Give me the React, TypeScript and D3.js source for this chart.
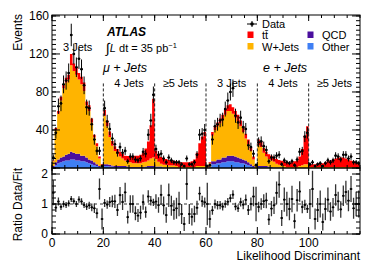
import * as d3 from "d3"

// 120 bins of the likelihood discriminant: mu+jets (0-59) then e+jets (60-119),
// 20 bins each for 3, 4 and >=5 jets
const other = [
  1, 3, 5, 6, 7, 8, 8, 9, 9, 8, 8, 7, 7, 6, 5, 4, 3, 2, 1, 0,
  2, 2, 1.5, 1.5, 1, 1, 1, 1, 1, 1, 0.5, 0.5, 0.5, 0.5, 0.5, 0.5, 1, 1, 1, 1,
  1, 1, 1, 0.5, 0.5, 0.5, 0.5, 0.5, 0, 0, 0, 0, 0, 0, 0, 0, 0, 0, 0, 0,
  0, 1, 4, 4, 5, 5, 6, 6, 7, 7, 7, 6, 6, 5, 5, 4, 3, 2, 1, 0,
  1, 1, 1, 1, 1, 0.5, 0.5, 0.5, 0.5, 0.5, 0, 0, 0, 0, 0, 0, 0, 0, 0, 0,
  0, 0, 0, 0, 0, 0, 0, 0, 0, 0, 0, 0, 0, 0, 0, 0, 0, 0, 0, 0,
]
const qcd = [
  1, 3, 4, 5, 5, 6, 7, 8, 7, 7, 7, 6, 6, 5, 4, 4, 3, 2, 1, 0,
  2, 2, 2, 1, 1, 1, 1, 1, 1, 0.5, 0.5, 0.5, 0.5, 0.5, 0.5, 0.5, 0.5, 1, 1, 1,
  0.5, 0.5, 0.5, 0, 0, 0, 0, 0, 0, 0, 0, 0, 0, 0, 0, 0, 0, 0, 0, 0,
  0, 0, 3, 3, 4, 4, 5, 5, 6, 6, 6, 6, 5, 5, 4, 4, 3, 2, 1, 0,
  1, 1, 1, 1, 0.5, 0.5, 0, 0, 0, 0, 0, 0, 0, 0, 0, 0, 0, 0, 0, 0,
  0, 0, 0, 0, 0, 0, 0, 0, 0, 0, 0, 0, 0, 0, 0, 0, 0, 0, 0, 0,
]
const wjets = [
  5, 34, 48, 60, 72, 76, 78, 91, 86, 83, 78, 75, 68, 55, 51, 40, 26, 19, 8, 3,
  51, 40, 29, 21, 16, 13, 10, 8, 6, 5, 5, 4, 4, 4, 4, 5, 5, 6, 8, 9,
  8, 5, 3, 3, 3, 2, 2, 2, 2, 1, 1, 1, 1, 1, 1, 1, 2, 2, 2, 2,
  1, 4, 27, 33, 35, 38, 40, 45, 47, 47, 44, 41, 38, 34, 29, 23, 19, 14, 7, 2,
  22, 20, 14, 10, 8, 7, 6, 4, 3, 2, 2, 1, 1, 1, 1, 1, 2, 3, 4, 4,
  1, 1, 1, 1, 1, 1, 1, 1, 1, 1, 1, 1, 1, 1, 1, 1, 1, 1, 1, 1,
]
const ttbar = [
  1, 2, 3, 4, 4, 5, 5, 12, 8, 8, 7, 8, 9, 4, 6, 4, 3, 3, 2, 1,
  6, 6, 6, 5, 5, 5, 5, 5, 5, 6, 6, 7, 8, 8, 9, 10, 14, 20, 35, 62,
  9, 8, 7, 7, 6, 6, 6, 5, 5, 5, 5, 5, 5, 5, 6, 8, 14, 24, 31, 36,
  1, 1, 4, 4, 4, 5, 5, 6, 6, 7, 7, 7, 7, 6, 6, 5, 5, 4, 3, 1,
  6, 6, 5, 5, 5, 5, 5, 5, 5, 5, 5, 5, 5, 5, 6, 7, 10, 17, 30, 40,
  3, 3, 3, 4, 4, 4, 5, 6, 7, 8, 9, 10, 10, 10, 9, 8, 7, 6, 5, 4,
]
const data = [
  11, 37, 65, 68, 88, 92, 100, 140, 120, 106, 115, 104, 87, 64, 63, 46, 30, 18, 18, 2,
  63, 49, 41, 31, 25, 16, 22, 16, 18, 7, 12, 12, 9, 8, 10, 17, 15, 35, 50, 77,
  20, 14, 15, 10, 6, 11, 8, 6, 6, 6, 4, 2, 10, 4, 4, 6, 14, 35, 36, 40,
  2, 3, 30, 44, 46, 50, 51, 62, 71, 80, 84, 55, 48, 53, 43, 41, 24, 22, 15, 3,
  27, 28, 23, 19, 7, 11, 11, 13, 14, 4, 8, 6, 5, 7, 3, 9, 17, 18, 33, 37,
  4, 6, 2, 4, 5, 2, 5, 8, 6, 8, 13, 12, 9, 14, 14, 10, 12, 6, 6, 5,
]

const jetLabels = ["3 Jets", "4 Jets", "\u22655 Jets", "3 Jets", "4 Jets", "\u22655 Jets"]
const channelBounds = [20, 40, 60, 80, 100]
const xTicks = [0, 20, 40, 60, 80, 100]
const yTicks = [0, 40, 80, 120, 160]
const yLabels = [40, 80, 120, 160]
const rTicks = [0, 1, 2]

const keys = ["other", "qcd", "wjets", "ttbar"] as const
const colors: Record<(typeof keys)[number], string> = {
  other: "#3f7ff4",
  qcd: "#4a0f9e",
  wjets: "#ffb400",
  ttbar: "#ff0000",
}

const FONT = "'Liberation Sans', Arial, Helvetica, sans-serif"
const W = 374
const H = 272
const L = 52
const R = 360
const T = 15
const S = 168
const B = 234

export default function App() {
  const x = d3.scaleLinear().domain([0, 120]).range([L, R])
  const y = d3.scaleLinear().domain([0, 161]).range([S, T])
  const yr = d3.scaleLinear().domain([0, 2.2]).range([B, S])

  const rows = data.map((_, i) => ({ i, other: other[i], qcd: qcd[i], wjets: wjets[i], ttbar: ttbar[i] }))
  const stacked = d3.stack<(typeof rows)[number]>().keys(keys as unknown as string[])(rows)
  const total = rows.map(r => r.other + r.qcd + r.wjets + r.ttbar)

  type Pt = { xv: number; y0: number; y1: number }
  const area = d3.area<Pt>().x(d => x(d.xv)).y0(d => y(d.y0)).y1(d => y(d.y1))
  const stepPts = (layer: d3.Series<(typeof rows)[number], string>): Pt[] =>
    layer.flatMap((d, i) => [
      { xv: i, y0: d[0], y1: d[1] },
      { xv: i + 1, y0: d[0], y1: d[1] },
    ])

  const ticksV = (vals: number[], sc: (v: number) => number, len: number) =>
    vals.map(v => `M${L},${sc(v)}h${len}M${R},${sc(v)}h${-len}`).join("")
  const ticksH = (vals: number[], y0: number, y1: number, len: number) =>
    vals.map(v => `M${x(v)},${y0}v${-len}M${x(v)},${y1}v${len}`).join("")

  const minorX = d3.range(0, 121, 5)
  const minorY = d3.range(0, 161, 5)
  const minorR = d3.range(0, 2.21, 0.2)

  const dataPath = data
    .map((n, i) => {
      const cx = x(i + 0.5)
      const e = Math.sqrt(n)
      return `M${x(i)},${y(n)}H${x(i + 1)}M${cx},${y(n + e)}V${y(Math.max(n - e, 0))}`
    })
    .join("")

  const ratio = data.map((n, i) => ({ i, r: n / total[i], e: Math.sqrt(n) / total[i], n }))
  const ratioPath = ratio
    .filter(d => d.n > 0)
    .map(d => {
      const cx = x(d.i + 0.5)
      return `M${x(d.i)},${yr(d.r)}H${x(d.i + 1)}M${cx},${yr(d.r + d.e)}V${yr(Math.max(d.r - d.e, 0))}`
    })
    .join("")

  const legendLeft = [
    { key: "ttbar", label: "tt\u0304", y: 35 },
    { key: "wjets", label: "W+Jets", y: 46.5 },
  ] as const
  const legendRight = [
    { key: "qcd", label: "QCD", y: 35 },
    { key: "other", label: "Other", y: 46.5 },
  ] as const

  return (
    <svg width={W} height={H} style={{ position: "absolute", left: 0, top: 0, background: "#fff" }} fontFamily={FONT}>
      <defs>
        <clipPath id="upper"><rect x={L} y={T} width={R - L} height={S - T} /></clipPath>
        <clipPath id="lower"><rect x={L} y={S} width={R - L} height={B - S} /></clipPath>
      </defs>

      <g clipPath="url(#upper)">
        {stacked.map(layer => (
          <path key={layer.key} d={area(stepPts(layer)) || ""} fill={colors[layer.key as keyof typeof colors]} />
        ))}
        {channelBounds.map(v => (
          <line key={v} x1={x(v)} x2={x(v)} y1={y(89)} y2={S} stroke="#222" strokeWidth={1} strokeDasharray="3,2" />
        ))}
        <path d={dataPath} stroke="#000" strokeWidth={1} fill="none" />
        {data.map((n, i) => (
          <circle key={i} cx={x(i + 0.5)} cy={y(n)} r={1.3} fill="#000" />
        ))}
      </g>

      <g clipPath="url(#lower)">
        <line x1={L} x2={R} y1={yr(1)} y2={yr(1)} stroke="#333" strokeDasharray="3,3" />
        <path d={ratioPath} stroke="#333" strokeWidth={1.3} fill="none" />
        {ratio.filter(d => d.n > 0).map(d => (
          <circle key={d.i} cx={x(d.i + 0.5)} cy={yr(d.r)} r={1.1} fill="#000" />
        ))}
      </g>

      {/* frames and ticks */}
      <rect x={L} y={T} width={R - L} height={S - T} fill="none" stroke="#000" />
      <rect x={L} y={S} width={R - L} height={B - S} fill="none" stroke="#000" />
      <path
        d={
          ticksV(minorY, y, 4) + ticksV(yTicks, y, 8) +
          ticksV(minorR, yr, 4) + ticksV(rTicks, yr, 8) +
          ticksH(minorX, S, T, 3) + ticksH(xTicks, S, T, 6) +
          ticksH(minorX, B, S, 3) + ticksH(xTicks, B, S, 7)
        }
        stroke="#000"
        strokeWidth={1}
        fill="none"
      />

      {/* axis labels */}
      <g fontSize={12} fill="#000">
        {yLabels.map(v => (
          <text key={v} x={L - 3} y={y(v) + 4.3} textAnchor="end">{v}</text>
        ))}
        {rTicks.map(v => (
          <text key={v} x={L - 4} y={yr(v) + 4.3} textAnchor="end">{v}</text>
        ))}
        {xTicks.map(v => (
          <text key={v} x={x(v)} y={247} textAnchor="middle">{v}</text>
        ))}
        <text x={R} y={260} textAnchor="end">Likelihood Discriminant</text>
        <text transform={`translate(22,${T - 1}) rotate(-90)`} textAnchor="end">Events</text>
        <text transform={`translate(22,${S}) rotate(-90)`} textAnchor="end">Ratio Data/Fit</text>
      </g>

      {/* channel and jet labels */}
      <g fontSize={11} fill="#000" textAnchor="middle">
        {jetLabels.map((lab, k) => (
          <text key={k} x={x(20 * k + 10)} y={k === 0 ? 51 : 87}>{lab}</text>
        ))}
      </g>
      <g fontSize={12.5} fontStyle="italic" fill="#000">
        <text x={103} y={72}>{"\u03bc + Jets"}</text>
        <text x={263} y={72}>e + Jets</text>
      </g>
      <text x={107} y={36} fontSize={12} fontWeight="bold" fontStyle="italic">ATLAS</text>
      <text x={106} y={52} fontSize={11}>
        <tspan fontSize={14} dy={1}>{"\u222b"}</tspan>
        <tspan dy={-1} fontStyle="italic">L</tspan>
        <tspan> dt = 35 pb</tspan>
        <tspan fontSize={7.5} dy={-4.5}>{"\u22121"}</tspan>
      </text>

      {/* legend */}
      <g fontSize={11} fill="#000">
        <line x1={247} x2={257} y1={24} y2={24} stroke="#000" />
        <line x1={252} x2={252} y1={21} y2={27} stroke="#000" />
        <circle cx={252} cy={24} r={1.8} fill="#000" />
        <text x={262} y={28}>Data</text>
        {legendLeft.map(d => (
          <g key={d.key}>
            <rect x={247.5} y={d.y - 3.5} width={6} height={6.5} fill={colors[d.key]} />
            <text x={262} y={d.y + 4}>{d.label}</text>
          </g>
        ))}
        {legendRight.map(d => (
          <g key={d.key}>
            <rect x={307.5} y={d.y - 3.5} width={6} height={6.5} fill={colors[d.key]} />
            <text x={322} y={d.y + 4}>{d.label}</text>
          </g>
        ))}
      </g>
    </svg>
  )
}
